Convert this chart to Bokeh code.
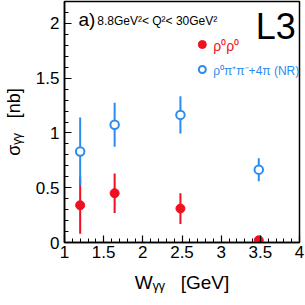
import math
from bokeh.plotting import figure
from bokeh.models import Range1d, Label, SingleIntervalTicker
from bokeh.embed import file_html
from bokeh.resources import INLINE

# ---- data ----
w_gg = [1.2, 1.64, 2.48, 3.48]
rho_rho = [0.34, 0.45, 0.31, 0.02]
rho_rho_err = [0.26, 0.18, 0.14, 0.0]
rho_pipi = [0.83, 1.075, 1.165, 0.665]
rho_pipi_err = [0.31, 0.20, 0.17, 0.105]

RED = "#f01020"
BLUE = "#2a8cf0"
FONT = "Liberation Sans"
NB = "\u00a0"

X0, X1 = 1.0, 4.0
Y0, Y1 = 0.0, 2.2
FL, FR, FT, FB = 62, 299, 1, 242  # frame in page pixels

def px(x):
    return X0 + (x - FL) / (FR - FL) * (X1 - X0)

def py(y):
    return Y0 + (FB - y) / (FB - FT) * (Y1 - Y0)

p = figure(width=305, height=305, output_backend="svg", toolbar_location=None,
           x_range=Range1d(X0, X1), y_range=Range1d(Y0, Y1),
           min_border_left=FL, min_border_right=305 - FR, min_border_top=FT,
           min_border_bottom=305 - FB)
p.xgrid.visible = False
p.ygrid.visible = False
p.outline_line_color = "black"
p.outline_line_width = 1.5
p.background_fill_color = "white"
p.border_fill_color = "white"

p.xaxis[0].ticker = SingleIntervalTicker(interval=0.5, num_minor_ticks=5)
p.yaxis[0].ticker = SingleIntervalTicker(interval=0.5, num_minor_ticks=5)
for ax in (p.xaxis[0], p.yaxis[0]):
    ax.axis_line_width = 1.5
    ax.major_tick_line_width = 1.2
    ax.minor_tick_line_width = 1
    ax.major_tick_in = 7
    ax.major_tick_out = 0
    ax.minor_tick_in = 4
    ax.minor_tick_out = 0
    ax.major_label_text_font = FONT
    ax.major_label_text_font_size = "17px"
    ax.major_label_text_color = "black"
    ax.axis_label_text_font = FONT
    ax.axis_label_text_font_style = "normal"
    ax.axis_label_text_color = "black"
p.xaxis.major_label_standoff = 3
p.yaxis.major_label_standoff = 5
p.xaxis.major_label_overrides = {1: "1", 2: "2", 3: "3", 4: "4"}
p.yaxis.major_label_overrides = {0: "0", 1: "1", 2: "2"}

p.xaxis.axis_label = "W\u1d67\u1d67" + NB * 3 + "[GeV]"
p.xaxis.axis_label_text_font_size = "19px"
p.xaxis.axis_label_standoff = 11
p.yaxis.axis_label = "\u03c3\u1d67\u1d67" + NB * 3 + "[nb]"
p.yaxis.axis_label_text_font_size = "18px"
p.yaxis.axis_label_standoff = 9

# error bars
lo1 = [v - e for v, e in zip(rho_rho, rho_rho_err)]
hi1 = [v + e for v, e in zip(rho_rho, rho_rho_err)]
lo2 = [v - e for v, e in zip(rho_pipi, rho_pipi_err)]
hi2 = [v + e for v, e in zip(rho_pipi, rho_pipi_err)]
p.segment(x0=w_gg, y0=lo1, x1=w_gg, y1=hi1, line_color=RED, line_width=2)
p.segment(x0=w_gg, y0=lo2, x1=w_gg, y1=hi2, line_color=BLUE, line_width=2)
p.scatter(w_gg, rho_rho, size=9, marker="circle", fill_color=RED, line_color=RED)
p.scatter(w_gg, rho_pipi, size=8.5, marker="circle", fill_color="white", line_color=BLUE, line_width=2)

# legend (manual)
p.scatter([px(201)], [py(44)], size=8, marker="circle", fill_color=RED, line_color=RED)
p.scatter([px(201)], [py(69)], size=7, marker="circle", fill_color="white", line_color=BLUE, line_width=2)

def lab(x, y, text, size, color="black", align="left", angle=0.0):
    p.add_layout(Label(x=px(x), y=py(y), text=text, text_font=FONT, text_font_size=f"{size}px",
                       text_color=color, text_align=align, text_baseline="middle", angle=angle))

lab(212, 45, "ρ⁰ρ⁰", 14, RED)
lab(212, 70, "ρ⁰π⁺π⁻+4π (NR)", 12, BLUE)
lab(76, 19, "a)", 19)
lab(95, 20, "8.8GeV²< Q²< 30GeV²", 12)
lab(275, 26, "L3", 36, align="center")

open("out.html", "w").write(file_html(p, INLINE))
